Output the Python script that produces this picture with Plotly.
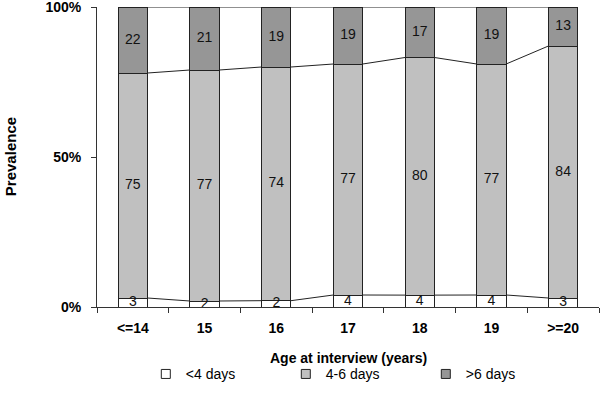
import plotly.graph_objects as go

categories = ["<=14", "15", "16", "17", "18", "19", ">=20"]
series_names = ["<4 days", "4-6 days", ">6 days"]
lt4 = [3, 2, 2, 4, 4, 4, 3]
d4_6 = [75, 77, 74, 77, 80, 77, 84]
gt6 = [22, 21, 19, 19, 17, 19, 13]
colors = ["#ffffff", "#c0c0c0", "#969696"]
y_ticks = [0, 50, 100]
y_ticklabels = ["0%", "50%", "100%"]

series = [lt4, d4_6, gt6]
n = len(categories)
totals = [sum(s[i] for s in series) for i in range(n)]
norm = [[s[i] / totals[i] * 100 for i in range(n)] for s in series]

FONT = "Liberation Sans, Arial, Helvetica, sans-serif"
BW = 0.41
EDGE = "#222222"

fig = go.Figure()
for name, vals, col in zip(series_names, norm, colors):
    fig.add_trace(go.Bar(
        x=list(range(n)), y=vals, name=name, width=BW, showlegend=False,
        marker=dict(color=col, line=dict(color=EDGE, width=1)),
        hoverinfo="skip",
    ))

cum = [0.0] * n
tops, mids = [], []
for vals in norm:
    mids.append([cum[i] + vals[i] / 2 for i in range(n)])
    cum = [cum[i] + vals[i] for i in range(n)]
    tops.append(list(cum))

for t in tops:
    xs, ys = [], []
    for i in range(n - 1):
        xs += [i + BW / 2, i + 1 - BW / 2, None]
        ys += [t[i], t[i + 1], None]
    fig.add_trace(go.Scatter(
        x=xs, y=ys, mode="lines", xaxis="x2", showlegend=False,
        line=dict(color=EDGE, width=1), hoverinfo="skip", cliponaxis=False,
    ))

for raw, m in zip(series, mids):
    fig.add_trace(go.Scatter(
        x=list(range(n)), y=m, mode="text", text=[str(v) for v in raw],
        textfont=dict(family=FONT, size=14, color="#111111"),
        xaxis="x2", showlegend=False, hoverinfo="skip", cliponaxis=False,
    ))

# legend entries (small square swatches)
for name, col in zip(series_names, colors):
    fig.add_trace(go.Scatter(
        x=[None], y=[None], mode="markers", name=name, xaxis="x2",
        marker=dict(symbol="square", size=9, color=col, line=dict(color=EDGE, width=1)),
    ))

fig.update_layout(
    width=600, height=410,
    margin=dict(l=97, r=1, t=7, b=103, autoexpand=False),
    paper_bgcolor="white", plot_bgcolor="white",
    barmode="stack",
    font=dict(family=FONT, size=14, color="black"),
    xaxis=dict(
        range=[-0.5, n - 0.5], tickmode="array",
        tickvals=list(range(n)), ticktext=categories,
        showline=True, linecolor="#333333", linewidth=1,
        ticks="outside", ticklen=8, tickcolor="rgba(0,0,0,0)",
        showgrid=False, zeroline=False,
        tickfont=dict(family=FONT, size=14, color="black", weight="bold"),
        minor=dict(tickvals=[i - 0.5 for i in range(n + 1)], ticks="outside",
                   ticklen=5, tickcolor="#333333", showgrid=False),
    ),
    xaxis2=dict(range=[-0.5, n - 0.5], overlaying="x", visible=False),
    yaxis=dict(
        range=[0, 100], tickmode="array", tickvals=y_ticks, ticktext=y_ticklabels,
        showline=True, linecolor="#333333", linewidth=1,
        ticks="outside", ticklen=12, tickcolor="rgba(0,0,0,0)",
        ticklabeloverflow="allow",
        showgrid=False, zeroline=False,
        tickfont=dict(family=FONT, size=14, color="black", weight="bold"),
        minor=dict(tickvals=y_ticks, ticks="outside", ticklen=5,
                   tickcolor="#333333", showgrid=False),
    ),
    legend=dict(
        orientation="h", xref="container", yref="container",
        x=0.243, xanchor="left", y=0.126, yanchor="top",
        entrywidth=95, entrywidthmode="pixels",
        font=dict(family=FONT, size=14, color="black"),
        traceorder="normal",
    ),
    annotations=[
        dict(text="<b>Prevalence</b>", textangle=-90, x=-0.173, xref="paper",
             xanchor="center", y=0.5, yref="paper", showarrow=False,
             font=dict(family=FONT, size=15)),
        dict(text="<b>Age at interview (years)</b>", x=0.5, xref="paper",
             xanchor="center", y=-0.17, yref="paper", yanchor="middle",
             showarrow=False, font=dict(family=FONT, size=14)),
    ],
)
fig.write_html("out.html", config={"displayModeBar": False},
               post_script="document.body.style.margin='0';")
